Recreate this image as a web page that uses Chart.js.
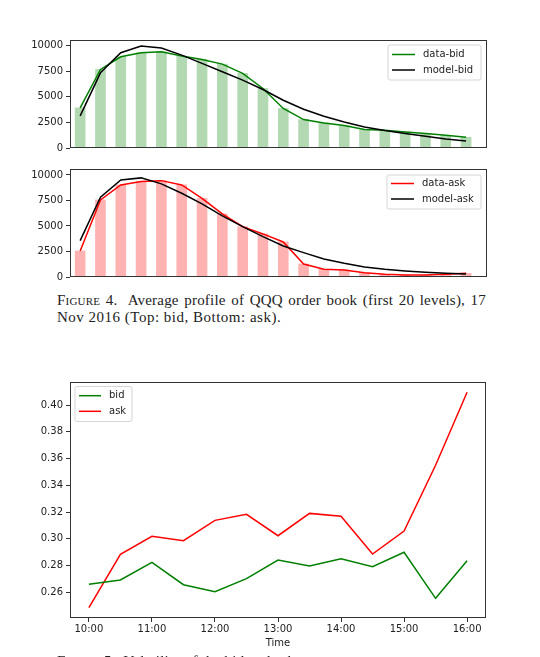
<!DOCTYPE html>
<html><head><meta charset="utf-8">
<script src="https://cdn.jsdelivr.net/npm/chart.js@4.4.0/dist/chart.umd.min.js"></script>
<style>
html,body{margin:0;padding:0;background:#fff;width:540px;height:657px;overflow:hidden;position:relative;}
.c{position:absolute;left:0;width:540px;}
.cap{position:absolute;font-family:"Liberation Serif","DejaVu Serif",serif;font-size:15px;letter-spacing:0.2px;line-height:17px;color:#222;white-space:nowrap;}
.sc{font-variant:small-caps;}
</style></head><body>
<div class="c" style="top:0;height:160px"><canvas id="bidChart"></canvas></div>
<div class="c" style="top:160px;height:130px"><canvas id="askChart"></canvas></div>
<div class="cap" id="cap1" style="left:57px;top:292px;width:429px;text-align:justify;text-align-last:justify;"><span class="sc">Figure 4.</span>&nbsp; Average profile of QQQ order book (first 20 levels), 17</div>
<div class="cap" style="left:57px;top:309px;letter-spacing:0.5px;">Nov 2016 (Top: bid, Bottom: ask).</div>
<div class="c" style="top:370px;height:287px"><canvas id="volChart"></canvas></div>
<div class="cap" style="left:57px;top:653px;"><span class="sc">Figure 5.</span>&nbsp; Volatility of the bid and ask</div>
<script>
// ---- data ----
const levels = [0,1,2,3,4,5,6,7,8,9,10,11,12,13,14,15,16,17,18,19];
const bidData  = [3920,7680,8920,9310,9410,8990,8660,8200,7290,5820,3860,2780,2450,2190,1800,1730,1570,1410,1240,1050];
const bidModel = [3140,7350,9310,9970,9770,9080,8270,7450,6630,5720,4670,3790,3100,2550,2060,1700,1410,1140,880,690];
const askData  = [2550,7550,9020,9350,9440,9020,7710,6180,4930,4220,3430,1270,750,690,420,260,200,200,260,360];
const askModel = [3560,7810,9510,9710,9120,8200,7160,5980,4930,3950,3040,2390,1760,1340,980,750,590,460,360,290];
const depthTicks = [0,2500,5000,7500,10000];

const times = ['10:00','10:30','11:00','11:30','12:00','12:30','13:00','13:30','14:00','14:30','15:00','15:30','16:00'];
const bidVol = [0.2660,0.2692,0.2824,0.2657,0.2604,0.2702,0.2841,0.2797,0.2851,0.2791,0.2899,0.2555,0.2836];
const askVol = [0.2485,0.2884,0.3019,0.2986,0.3138,0.3183,0.3023,0.3190,0.3168,0.2886,0.3058,0.3550,0.4095];
const hourTicks = [10,11,12,13,14,15,16];
const volTicks = [0.26,0.28,0.30,0.32,0.34,0.36,0.38,0.40];

const toHours = t => { const [h,m] = t.split(':').map(Number); return h + m/60; };
const pts = (xs, ys) => ys.map((y,i)=>({x:xs[i], y}));

Chart.defaults.font.family = "'DejaVu Sans', sans-serif";
Chart.defaults.font.size = 10;
Chart.defaults.color = '#222';

const frame = {
  id:'frame',
  afterDatasetsDraw(chart){
    const {ctx, chartArea:a} = chart;
    ctx.save();
    ctx.strokeStyle = '#333'; ctx.lineWidth = 1;
    ctx.strokeRect(Math.round(a.left)+0.5, Math.round(a.top)+0.5, Math.round(a.right-a.left)-1, Math.round(a.bottom-a.top)-1);
    ctx.restore();
  }
};
const boxLegend = {
  id:'boxLegend',
  afterDraw(chart, args, o){
    if(!o || !o.items) return;
    const ctx = chart.ctx;
    ctx.save();
    const r = 2;
    ctx.beginPath();
    ctx.moveTo(o.x+r,o.y); ctx.lineTo(o.x+o.w-r,o.y); ctx.arcTo(o.x+o.w,o.y,o.x+o.w,o.y+r,r);
    ctx.lineTo(o.x+o.w,o.y+o.h-r); ctx.arcTo(o.x+o.w,o.y+o.h,o.x+o.w-r,o.y+o.h,r);
    ctx.lineTo(o.x+r,o.y+o.h); ctx.arcTo(o.x,o.y+o.h,o.x,o.y+o.h-r,r);
    ctx.lineTo(o.x,o.y+r); ctx.arcTo(o.x,o.y,o.x+r,o.y,r); ctx.closePath();
    ctx.fillStyle='rgba(255,255,255,0.85)'; ctx.fill();
    ctx.strokeStyle='#d6d6d6'; ctx.lineWidth=1; ctx.stroke();
    ctx.font = "10px 'DejaVu Sans', sans-serif";
    ctx.textBaseline='middle'; ctx.textAlign='left';
    o.items.forEach((it,i)=>{
      const y = o.rows[i];
      ctx.strokeStyle = it.color; ctx.lineWidth = 1.5;
      ctx.beginPath(); ctx.moveTo(o.lx0,y); ctx.lineTo(o.lx1,y); ctx.stroke();
      ctx.fillStyle='#222'; ctx.fillText(it.text, o.tx, y);
    });
    ctx.restore();
  }
};

function depthChart(id, bars, barColor, dataLine, lineColor, model, ymax, pad, legend){
  return new Chart(document.getElementById(id), {
    type:'line',
    data:{datasets:[
      {type:'bar', data:pts(levels,bars), backgroundColor:barColor, barThickness:10, order:2},
      {type:'line', data:pts(levels,dataLine), borderColor:lineColor, borderWidth:1.5, pointRadius:0, tension:0, order:1},
      {type:'line', data:pts(levels,model), borderColor:'#000', borderWidth:1.5, pointRadius:0, tension:0, order:0}
    ]},
    options:{
      responsive:true, maintainAspectRatio:false, animation:false,
      layout:{padding:pad},
      plugins:{legend:{display:false}, tooltip:{enabled:false}, boxLegend:legend},
      scales:{
        x:{type:'linear', min:-0.5, max:20.03, offset:false, grid:{offset:false}, display:false},
        y:{type:'linear', min:0, max:ymax,
           afterBuildTicks:s=>{ s.ticks = depthTicks.map(v=>({value:v})); },
           ticks:{padding:3, color:'#222', callback:v=>String(v)},
           grid:{drawOnChartArea:false, drawTicks:true, tickLength:4, tickColor:'#333', color:'#333'},
           border:{display:false},
           afterFit:s=>{ s.width = 70; }}
      }
    },
    plugins:[frame, boxLegend]
  });
}

depthChart('bidChart', bidData, 'rgba(0,128,0,0.3)', bidData, '#008000', bidModel, 10557,
  {top:40,right:53,bottom:12,left:0},
  {x:388,y:45,w:93,h:35,lx0:392,lx1:415,tx:423,rows:[54.5,70],
   items:[{text:'data-bid',color:'#008000'},{text:'model-bid',color:'#000'}]});

depthChart('askChart', askData, 'rgba(255,0,0,0.3)', askData, '#ff0000', askModel, 10580,
  {top:9,right:53,bottom:13,left:0},
  {x:387,y:15,w:94,h:34,lx0:391,lx1:414,tx:422,rows:[23.5,39],
   items:[{text:'data-ask',color:'#ff0000'},{text:'model-ask',color:'#000'}]});

const hrs = times.map(toHours);
new Chart(document.getElementById('volChart'), {
  type:'line',
  data:{datasets:[
    {label:'bid', data:pts(hrs,bidVol), borderColor:'#008000', borderWidth:1.5, pointRadius:0, tension:0},
    {label:'ask', data:pts(hrs,askVol), borderColor:'#ff0000', borderWidth:1.5, pointRadius:0, tension:0}
  ]},
  options:{
    responsive:true, maintainAspectRatio:false, animation:false,
    layout:{padding:{top:12,right:54,bottom:8,left:0}},
    plugins:{legend:{display:false}, tooltip:{enabled:false},
      boxLegend:{x:75,y:16.5,w:57,h:35,lx0:79,lx1:101,tx:109,rows:[25.7,41.3],
        items:[{text:'bid',color:'#008000'},{text:'ask',color:'#ff0000'}]}},
    scales:{
      x:{type:'linear', min:9.7, max:16.3,
         afterBuildTicks:s=>{ s.ticks = hourTicks.map(v=>({value:v})); },
         ticks:{padding:1, color:'#222', maxRotation:0, callback:v=>v+':00'},
         grid:{drawOnChartArea:false, drawTicks:true, tickLength:4, tickColor:'#333', color:'#333'},
         border:{display:false},
         title:{display:true, text:'Time', color:'#222', padding:{top:2,bottom:0}, font:{size:10}},
         afterFit:s=>{ s.height = 31; }},
      y:{type:'linear', min:0.2408, max:0.4172,
         afterBuildTicks:s=>{ s.ticks = volTicks.map(v=>({value:v})); },
         ticks:{padding:3, color:'#222', callback:v=>v.toFixed(2)},
         grid:{drawOnChartArea:false, drawTicks:true, tickLength:4, tickColor:'#333', color:'#333'},
         border:{display:false},
         afterFit:s=>{ s.width = 70; }}
    }
  },
  plugins:[frame, boxLegend]
});
</script>
</body></html>
